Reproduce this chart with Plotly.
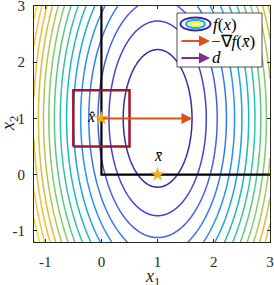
import numpy as np
import plotly.graph_objects as go

# ---- data ----
center = [1.0, 1.0]          # minimiser of f
coef = [4.0, 1.0]            # f(x) = 4(x1-1)^2 + (x2-1)^2
levels_start, levels_end, levels_step = 1.5, 24.0, 1.5
axis_range = [-1.2, 3.0]
tick_vals = [-1, 0, 1, 2, 3]
tick_text = ["-1", "0", "1", "2", "3"]

constraint_x = [0, 0, 3]     # boundary of the feasible set
constraint_y = [3, 0, 0]
x_hat = [0, 1]
x_bar = [1, 0]
box_half = 0.5               # box around x_hat
grad_tip = [1.62, 1]         # -grad f arrow end

parula = [
    [0.0, "rgb(62,38,168)"],
    [0.11, "rgb(72,82,244)"],
    [0.24, "rgb(46,135,247)"],
    [0.37, "rgb(18,177,214)"],
    [0.49, "rgb(55,200,151)"],
    [0.62, "rgb(146,204,94)"],
    [0.75, "rgb(227,187,51)"],
    [0.87, "rgb(254,195,55)"],
    [1.0, "rgb(249,251,14)"],
]

g = np.linspace(axis_range[0], axis_range[1], 400)
X1, X2 = np.meshgrid(g, g)
Z = coef[0] * (X1 - center[0]) ** 2 + coef[1] * (X2 - center[1]) ** 2

W, H = 274, 285
L, R, T, B = 34, 4, 6, 43
serif = "Liberation Serif"
axc = "#262626"

fig = go.Figure()
fig.add_trace(go.Contour(
    x=g, y=g, z=Z, colorscale=parula, zmin=levels_start, zmax=levels_end,
    contours=dict(start=levels_start, end=levels_end, size=levels_step, coloring="lines"),
    line=dict(width=1.5), showscale=False, hoverinfo="skip"))

fig.add_trace(go.Scatter(x=constraint_x, y=constraint_y, mode="lines",
                         line=dict(color="black", width=2.2), showlegend=False))

bx = [x_hat[0] - box_half, x_hat[0] + box_half, x_hat[0] + box_half, x_hat[0] - box_half, x_hat[0] - box_half]
by = [x_hat[1] - box_half, x_hat[1] - box_half, x_hat[1] + box_half, x_hat[1] + box_half, x_hat[1] - box_half]
fig.add_trace(go.Scatter(x=bx, y=by, mode="lines",
                         line=dict(color="#a2142f", width=2.5), showlegend=False))

annotations = []
annotations.append(dict(x=grad_tip[0], y=grad_tip[1], ax=x_hat[0], ay=x_hat[1],
                        xref="x", yref="y", axref="x", ayref="y", showarrow=True,
                        arrowhead=2, arrowsize=1.1, arrowwidth=2, arrowcolor="#d95319", text=""))

fig.add_trace(go.Scatter(x=[x_hat[0], x_bar[0]], y=[x_hat[1], x_bar[1]], mode="markers",
                         marker=dict(symbol="star", size=11, color="#edb120", line=dict(width=0)),
                         showlegend=False))

annotations.append(dict(x=x_hat[0], y=x_hat[1], xref="x", yref="y", text="<i>x̂</i>",
                        showarrow=False, xshift=-10, yshift=2, font=dict(family=serif, size=16, color="black")))
annotations.append(dict(x=x_bar[0], y=x_bar[1], xref="x", yref="y", text="<i>x̄</i>",
                        showarrow=False, yshift=19, font=dict(family=serif, size=16, color="black")))

def px(v):
    return (v - L) / (W - L - R)

def py(v):
    return (H - B - v) / (H - T - B)

shapes = []
# legend box
shapes.append(dict(type="rect", xref="paper", yref="paper", x0=px(177), x1=px(262), y0=py(67), y1=py(13),
                   fillcolor="white", line=dict(color=axc, width=0.8), layer="above"))
# ellipse icon
for (w, h, c) in [(15, 6.5, "rgb(62,38,168)"), (9.5, 4, "rgb(18,177,214)"), (4.5, 2, "rgb(249,251,14)")]:
    shapes.append(dict(type="circle", xref="paper", yref="paper", x0=px(195.5 - w), x1=px(195.5 + w),
                       y0=py(24 + h), y1=py(24 - h), line=dict(color=c, width=2), layer="above"))
fig.update_layout(shapes=shapes)

for (yy, col) in [(41, "#d95319"), (58, "#7e2f8e")]:
    annotations.append(dict(x=px(210), y=py(yy), xref="paper", yref="paper", ax=-30, ay=0,
                            showarrow=True, arrowhead=2, arrowsize=1.1, arrowwidth=2, arrowcolor=col, text=""))
lf = dict(family=serif, size=17, color="black")
annotations.append(dict(x=px(211), y=py(24), xref="paper", yref="paper", xanchor="left", yanchor="middle",
                        text="<i>f</i>(<i>x</i>)", showarrow=False, font=lf))
annotations.append(dict(x=px(209), y=py(41), xref="paper", yref="paper", xanchor="left", yanchor="middle",
                        text="−∇<i>f</i>(<i>x̄</i>)", showarrow=False, font=lf))
annotations.append(dict(x=px(210), y=py(58), xref="paper", yref="paper", xanchor="left", yanchor="middle",
                        text="<i>d</i>", showarrow=False, font=lf))
# axis titles
annotations.append(dict(x=0.5, y=py(277), xref="paper", yref="paper", xanchor="center", yanchor="middle",
                        text="<i>x</i><sub>1</sub>", showarrow=False, font=dict(family=serif, size=18, color=axc)))
annotations.append(dict(x=px(9), y=0.5, xref="paper", yref="paper", xanchor="center", yanchor="middle",
                        text="<i>x</i><sub>2</sub>", textangle=-90, showarrow=False,
                        font=dict(family=serif, size=18, color=axc)))

axis_common = dict(range=axis_range, tickvals=tick_vals, ticktext=tick_text, showgrid=False, zeroline=False,
                   showline=True, linecolor=axc, linewidth=1, mirror="ticks", ticks="inside", ticklen=3,
                   tickcolor=axc, tickfont=dict(family=serif, size=15, color=axc), ticklabeloverflow="allow")
fig.update_xaxes(**axis_common, ticklabelstandoff=6)
fig.update_yaxes(**axis_common, ticklabelstandoff=5)

fig.update_layout(width=W, height=H, margin=dict(l=L, r=R, t=T, b=B, pad=0, autoexpand=False),
                  plot_bgcolor="white", paper_bgcolor="white", showlegend=False,
                  annotations=annotations)
fig.write_html("out.html", config={"displayModeBar": False},
               post_script="document.body.style.margin='0px';document.body.style.overflow='hidden';")
